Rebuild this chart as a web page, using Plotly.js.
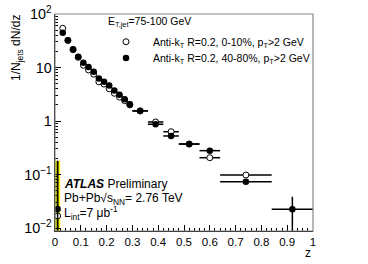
<!DOCTYPE html>
<html>
<head>
<meta charset="utf-8">
<script src="https://cdn.plot.ly/plotly-3.0.1.min.js"></script>
<style>html,body{margin:0;padding:0;background:#fff}#chart{width:368px;height:264px}</style>
</head>
<body>
<div id="chart"></div>
<script>
// z bin centres and half-widths
const zBins = [0.01,0.03,0.05,0.07,0.09,0.11,0.13,0.15,0.17,0.19,0.21,0.23,0.25,0.27,0.29,0.33,0.39,0.45,0.52,0.60,0.74,0.92];
const zHalfWidth = [0.01,0.01,0.01,0.01,0.01,0.01,0.01,0.01,0.01,0.01,0.01,0.01,0.01,0.01,0.01,0.03,0.03,0.03,0.04,0.04,0.10,0.08];
// 40-80% (filled)
const periph = [0.0226,44.7,32.2,21.9,15.9,12.3,10.2,8.3,6.2,5.4,4.6,3.7,3.1,2.55,2.05,1.54,0.87,0.525,0.372,0.279,0.0733,0.0223];
const periphErr = [0.157,0,0,0,0,0,0,0,0,0,0,0,0,0,0,0,0,0,0,0,0.004,0.016];
// 0-10% (open)
const central = [0.0168,54,32,21.5,15.5,11.0,9.0,7.5,5.4,4.9,4.0,3.3,2.8,2.4,2.0,1.55,0.958,0.631,0.37,0.206,0.098,null];
const centralErr = [0.163,0,0,0,0,0,0,0,0,0,0,0,0,0,0,0,0,0,0,0,0.004,0];
// systematic (yellow) boxes
const sysZ = [0.01,0.03];
const sysLow = [0.008,49];
const sysHigh = [0.18,60];
const sysWidth = [0.02,0.016];

const FONT = 'Liberation Sans, Arial, Helvetica, sans-serif';

const traces = [
  {type:'bar', x:sysZ, base:sysLow, y:sysHigh.map((h,i)=>h-sysLow[i]), width:sysWidth,
   marker:{color:'#ffff00', line:{width:0}}, showlegend:false, hoverinfo:'skip'},
  {type:'scatter', mode:'markers', x:zBins, y:central, legend:'legend',
   name:'Anti-k<sub>T</sub> R=0.2, 0-10%, p<sub>T</sub>&gt;2 GeV',
   marker:{symbol:'circle', size:6, color:'#ffffff', line:{color:'#000', width:1}},
   error_x:{type:'data', array:zHalfWidth, color:'#000', thickness:1.5, width:0},
   error_y:{type:'data', array:centralErr, color:'#000', thickness:1.5, width:0}},
  {type:'scatter', mode:'markers', x:zBins, y:periph, legend:'legend2',
   name:'Anti-k<sub>T</sub> R=0.2, 40-80%, p<sub>T</sub>&gt;2 GeV',
   marker:{symbol:'circle', size:6.5, color:'#000', line:{color:'#000', width:0}},
   error_x:{type:'data', array:zHalfWidth, color:'#000', thickness:1.5, width:0},
   error_y:{type:'data', array:periphErr, color:'#000', thickness:1.5, width:0}}
];

const legendBase = {xanchor:'left', yanchor:'top', bgcolor:'rgba(0,0,0,0)', borderwidth:0,
  font:{family:FONT, size:10.5, color:'#000'}, itemsizing:'trace', itemwidth:44};

const layout = {
  width:368, height:264,
  margin:{l:55, r:55, t:14, b:33, pad:0},
  paper_bgcolor:'#fff', plot_bgcolor:'#fff',
  font:{family:FONT, size:11.5, color:'#000'},
  showlegend:true,
  legend:Object.assign({x:0.1705, y:0.939}, legendBase),
  legend2:Object.assign({x:0.1705, y:0.864}, legendBase),
  barmode:'overlay',
  xaxis:{range:[0,1], showgrid:false, zeroline:false, showline:true, linecolor:'#000', linewidth:1,
         ticks:'inside', ticklen:6, tickwidth:1, tickcolor:'#000',
         tickvals:[0,0.1,0.2,0.3,0.4,0.5,0.6,0.7,0.8,0.9,1],
         ticktext:['0','0.1','0.2','0.3','0.4','0.5','0.6','0.7','0.8','0.9','1'],
         minor:{ticks:'inside', ticklen:3, tickcolor:'#000', dtick:0.02, tick0:0, showgrid:false},
         tickfont:{family:FONT, size:11.5}},
  yaxis:{type:'log', range:[-2.056,2], showgrid:false, zeroline:false, showline:true, linecolor:'#000', linewidth:1,
         ticks:'inside', ticklen:6, tickwidth:1, tickcolor:'#000', dtick:1, exponentformat:'power',
         minor:{ticks:'inside', ticklen:3, tickcolor:'#000', dtick:'D1', showgrid:false},
         tickfont:{family:FONT, size:11.5}},
  shapes:[{type:'rect', xref:'paper', yref:'paper', x0:0, x1:1, y0:0, y1:1, line:{color:'#888', width:1.2}, layer:'above'}],
  annotations:[
    {xref:'paper', yref:'paper', x:0.198, y:0.962, xanchor:'left', yanchor:'middle', showarrow:false,
     text:'E<sub>T,jet</sub>=75-100 GeV', font:{family:FONT, size:10.5}},
    {xref:'paper', yref:'paper', x:0.028, y:0.218, xanchor:'left', yanchor:'middle', showarrow:false,
     text:'<b><i>ATLAS</i></b> Preliminary', font:{family:FONT, size:12}},
    {xref:'paper', yref:'paper', x:0.028, y:0.149, xanchor:'left', yanchor:'middle', showarrow:false,
     text:'Pb+Pb√s<sub>NN</sub>= 2.76 TeV', font:{family:FONT, size:12}},
    {xref:'paper', yref:'paper', x:0.028, y:0.084, xanchor:'left', yanchor:'middle', showarrow:false,
     text:'L<sub>int</sub>=7 μb<sup>-1</sup>', font:{family:FONT, size:12}},
    {xref:'paper', yref:'paper', x:-0.147, y:1.005, xanchor:'center', yanchor:'top', textangle:-90, showarrow:false,
     text:'1/N<sub>jets</sub> dN/dz', font:{family:FONT, size:12}},
    {xref:'paper', yref:'paper', x:1.0, y:-0.1, xanchor:'right', yanchor:'middle', showarrow:false,
     text:'z', font:{family:FONT, size:12}}
  ]
};

Plotly.newPlot('chart', traces, layout, {displayModeBar:false, staticPlot:true});
</script>
</body>
</html>
